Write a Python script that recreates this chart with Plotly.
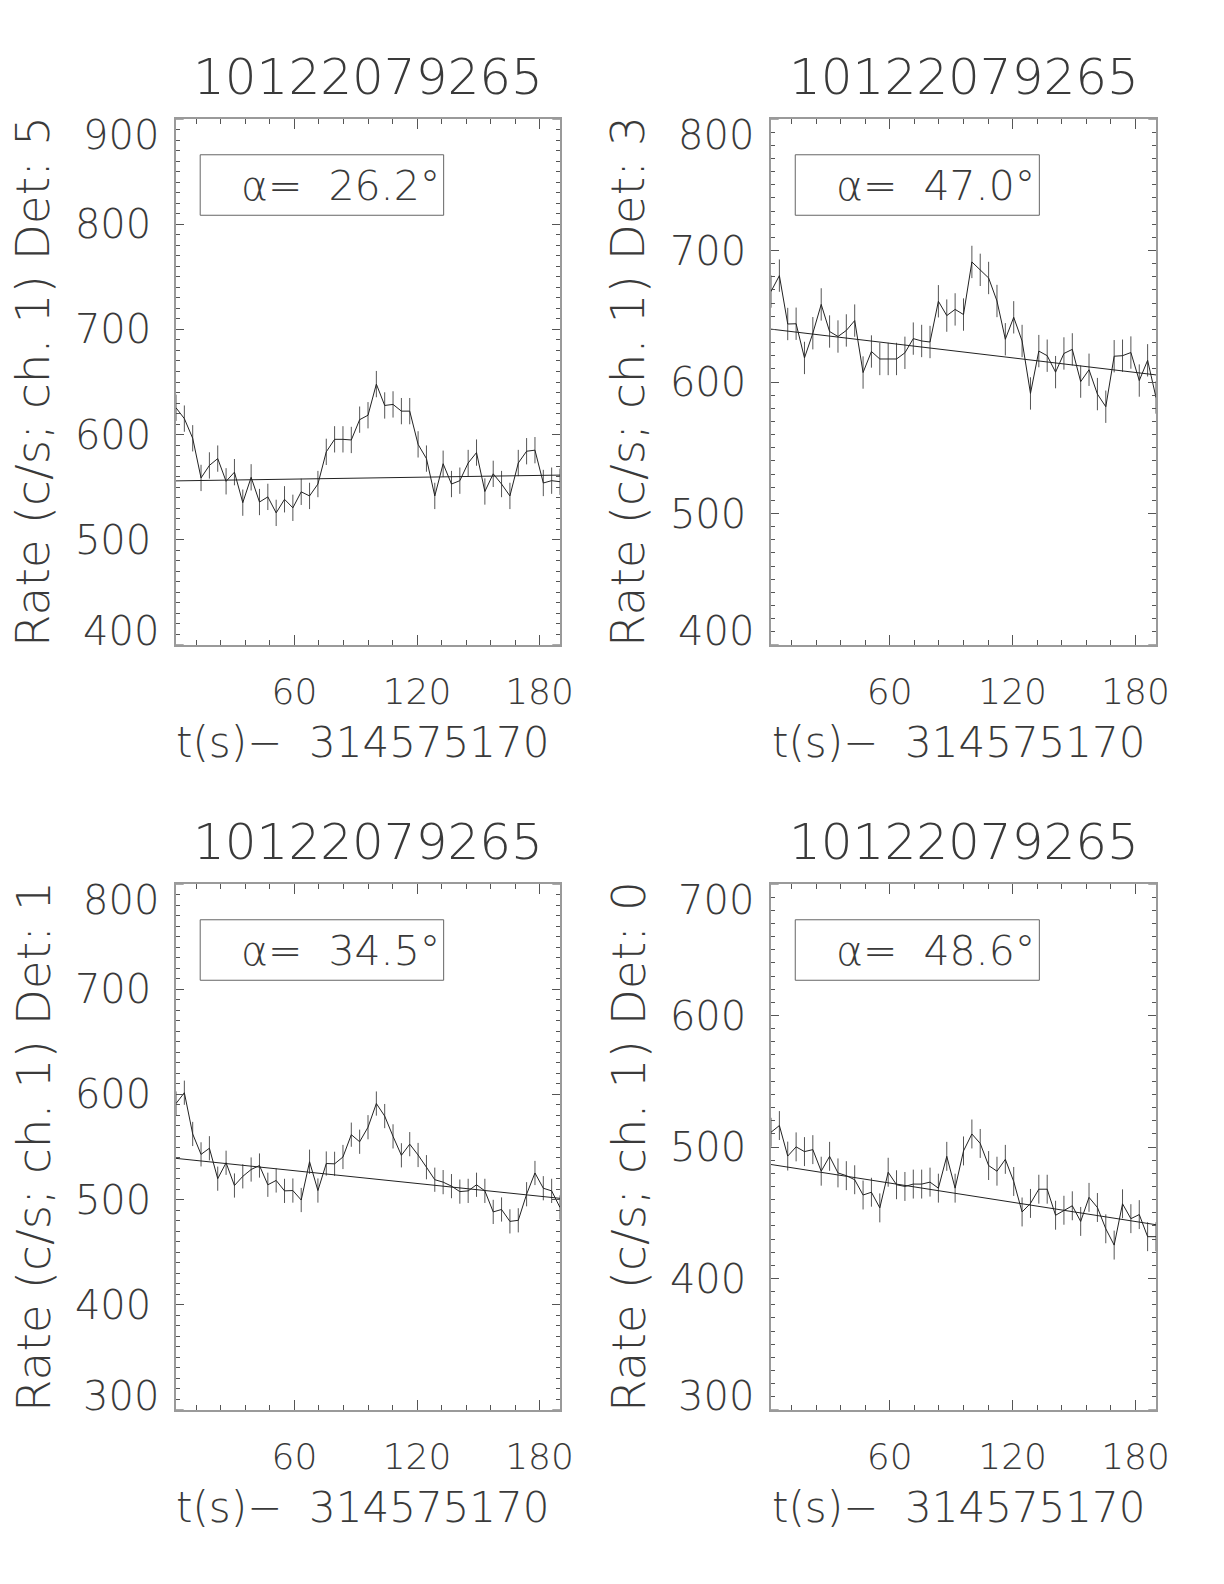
import plotly.graph_objects as go

# time bins (s) relative to 314575170
t = [2.0, 6.09, 10.17, 14.26, 18.35, 22.43, 26.52, 30.61, 34.70, 38.78, 42.87, 46.96,
     51.04, 55.13, 59.22, 63.30, 67.39, 71.48, 75.57, 79.65, 83.74, 87.83, 91.91, 96.00,
     100.09, 104.17, 108.26, 112.35, 116.43, 120.52, 124.61, 128.70, 132.78, 136.87,
     140.96, 145.04, 149.13, 153.22, 157.30, 161.39, 165.48, 169.57, 173.65, 177.74,
     181.83, 185.91, 190.00]

rate_det5 = [625.5, 615.2, 596.5, 558.8, 570.7, 577.2, 555.6, 564.3, 535.3, 559.4, 535.9, 540.8,
             525.6, 538.5, 530.4, 545.6, 541.7, 553.0, 583.6, 595.5, 595.5, 594.9, 614.2, 618.4,
             648.0, 627.7, 628.7, 622.3, 622.3, 590.7, 577.2, 541.7, 572.3, 553.0, 556.2, 573.0,
             582.9, 545.9, 562.7, 553.0, 541.7, 573.0, 584.2, 585.2, 554.0, 556.2, 555.2]
rate_det3 = [668.8, 680.9, 644.1, 644.3, 618.3, 637.1, 659.0, 638.4, 634.6, 639.2, 646.7, 607.2,
             623.2, 617.5, 617.5, 617.5, 622.2, 633.0, 631.2, 630.4, 661.4, 650.5, 655.2, 651.3,
             691.3, 685.3, 679.1, 661.6, 632.5, 649.2, 631.2, 591.3, 623.5, 620.0, 607.5, 621.7,
             624.8, 600.3, 609.3, 590.8, 581.2, 619.6, 620.0, 622.4, 601.1, 616.5, 588.2]
rate_det1 = [591.3, 601.6, 562.4, 543.0, 548.8, 519.9, 535.0, 513.4, 522.1, 528.6, 532.4, 514.1,
             518.2, 508.3, 508.6, 499.6, 536.0, 508.6, 534.3, 534.0, 540.5, 561.7, 555.0, 568.8,
             591.3, 579.4, 560.1, 542.1, 552.7, 542.4, 530.8, 518.9, 516.6, 512.8, 507.6, 508.3,
             514.1, 508.3, 488.3, 490.6, 479.3, 480.3, 505.1, 525.3, 510.8, 508.3, 492.5]
rate_det0 = [511.2, 516.3, 493.1, 500.1, 496.5, 498.0, 481.6, 492.9, 480.3, 478.2, 475.1, 463.5,
             465.6, 453.7, 480.8, 471.3, 470.0, 471.8, 471.8, 473.3, 468.7, 492.9, 468.7, 497.0,
             509.9, 502.7, 485.9, 481.6, 490.6, 473.8, 450.6, 457.1, 467.9, 467.9, 448.1, 451.9,
             455.3, 443.4, 461.7, 454.0, 437.8, 425.4, 456.8, 445.5, 448.6, 431.8, 431.8]

errors = [12.5, 12.3, 11.5, 11.0]            # 1-sigma half-lengths of error bars
fit_start = [556.0, 640.2, 539.2, 486.7]     # linear background at t start
fit_end = [561.5, 605.4, 501.2, 440.9]       # linear background at t end
fit_t = [2.0, 190.0]

detectors = ["5", "3", "1", "0"]
alphas = ["26.2", "47.0", "34.5", "48.6"]
y_ranges = [[400, 900], [400, 800], [300, 800], [300, 700]]
y_ticks = [[400, 500, 600, 700, 800, 900], [400, 500, 600, 700, 800],
           [300, 400, 500, 600, 700, 800], [300, 400, 500, 600, 700]]
x_range = [2, 190]
x_ticks = [60, 120, 180]
burst_id = "10122079265"
t_offset = "314575170"

rates = [rate_det5, rate_det3, rate_det1, rate_det0]

W, H = 1224, 1584
# plot areas in pixels (left, right, top, bottom)
boxes = [(176, 560, 119, 645), (771, 1156, 119, 645),
         (176, 560, 884, 1410), (771, 1156, 884, 1410)]

FONT = "DejaVu Sans"
WT = 200
TXT = "#3a3a3a"
AXC = "#9a9a9a"
TKC = "#555555"

fig = go.Figure()
layout = dict(width=W, height=H, margin=dict(l=0, r=0, t=0, b=0, autoexpand=False),
              paper_bgcolor="white", plot_bgcolor="white", showlegend=False,
              template="none",
              font=dict(family=FONT, color=TXT, size=36, weight=WT))
annotations = []
shapes = []

for k in range(4):
    l, r, tp, bt = boxes[k]
    sfx = "" if k == 0 else str(k + 1)
    xa, ya = "x" + sfx, "y" + sfx
    fig.add_trace(go.Scatter(
        x=t, y=rates[k], xaxis=xa, yaxis=ya, mode="lines",
        line=dict(color="#222222", width=1),
        error_y=dict(type="constant", value=errors[k], color="#555555",
                     thickness=1, width=0)))
    fig.add_trace(go.Scatter(
        x=fit_t, y=[fit_start[k], fit_end[k]], xaxis=xa, yaxis=ya, mode="lines",
        line=dict(color="#222222", width=1)))

    inner = y_ticks[k][1:-1]
    layout["xaxis" + sfx] = dict(
        domain=[l / W, r / W], anchor=ya, range=x_range, automargin=False,
        showgrid=False, zeroline=False, showline=True, linecolor=AXC, linewidth=1.5,
        mirror="ticks", ticks="inside", ticklen=10, tickwidth=1, tickcolor=TKC,
        tickmode="array", tickvals=x_ticks, ticklabelstandoff=14,
        tickfont=dict(family=FONT, size=36, color=TXT, weight=WT),
        minor=dict(ticks="inside", ticklen=5, tickwidth=1, tickcolor=TKC,
                   tick0=0, dtick=12))
    layout["yaxis" + sfx] = dict(
        domain=[1 - bt / H, 1 - tp / H], anchor=xa, range=y_ranges[k], automargin=False,
        showgrid=False, zeroline=False, showline=True, linecolor=AXC, linewidth=1.5,
        mirror="ticks", ticks="inside", ticklen=8, tickwidth=1, tickcolor=TKC,
        tickmode="array", tickvals=inner, ticklabelstandoff=15,
        tickfont=dict(family=FONT, size=40, color=TXT, weight=WT),
        minor=dict(ticks="inside", ticklen=4, tickwidth=1, tickcolor=TKC,
                   tick0=0, dtick=10))
    # end tick labels of the y axis sit slightly inside the frame
    for val, shift in ((y_ticks[k][0], 14), (y_ticks[k][-1], -16)):
        annotations.append(dict(text=str(val), x=0, y=val, xref=xa + " domain", yref=ya,
                                showarrow=False, xanchor="right", yanchor="middle",
                                xshift=-16, yshift=shift, borderpad=0,
                                font=dict(size=40)))
        shapes.append(dict(type="line", xref=xa + " domain", yref=ya,
                           x0=0, x1=0.02, y0=val, y1=val,
                           line=dict(color=TKC, width=1)))
        shapes.append(dict(type="line", xref=xa + " domain", yref=ya,
                           x0=0.98, x1=1, y0=val, y1=val,
                           line=dict(color=TKC, width=1)))

    cx = (l + r) / 2 / W
    annotations.append(dict(text=burst_id, x=cx, y=1 - (tp - 42) / H, xref="paper",
                            yref="paper", showarrow=False, xanchor="center",
                            yanchor="middle", font=dict(size=50)))
    annotations.append(dict(text="t(s)\u2212\u00a0\u00a0" + t_offset, x=cx - 5 / W,
                            y=1 - (bt + 97) / H, xref="paper", yref="paper",
                            showarrow=False, xanchor="center", yanchor="middle",
                            font=dict(size=42)))
    annotations.append(dict(text="Rate (c/s; ch. 1) Det: " + detectors[k],
                            x=(l - 143) / W, y=1 - (tp + bt) / 2 / H, xref="paper",
                            yref="paper", showarrow=False, textangle=-90,
                            xanchor="center", yanchor="middle", font=dict(size=47)))
    annotations.append(dict(text="\u03b1=\u00a0\u00a0" + alphas[k] + "\u00b0",
                            x=0.428, y=0.873, xref=xa + " domain", yref=ya + " domain",
                            showarrow=False, xanchor="center", yanchor="middle",
                            font=dict(size=41)))
    shapes.append(dict(type="rect", xref=xa + " domain", yref=ya + " domain",
                       x0=0.063, x1=0.697, y0=0.817, y1=0.932,
                       line=dict(color="#666666", width=1)))

layout["annotations"] = annotations
layout["shapes"] = shapes
fig.update_layout(**layout)

fig.write_html("out.html", config={"displayModeBar": False},
               post_script="document.body.style.margin='0';")
